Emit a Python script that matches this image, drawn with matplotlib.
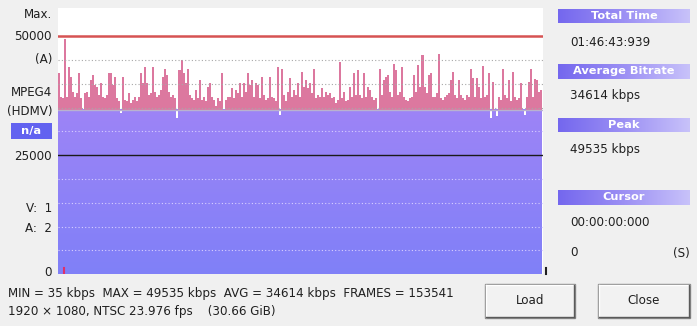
import numpy as np
import matplotlib
matplotlib.use("Agg")
import matplotlib.pyplot as plt
from matplotlib.patches import Rectangle
from matplotlib.colors import LinearSegmentedColormap

# ---------------- data (kbps per sample) ----------------
seg_a = [42220, 37360, 37010, 49535, 37360, 43610, 41530, 38400, 37360, 38060,
         42220, 37010, 34240, 38060, 38400, 37360, 40830, 41880, 39790, 39440,
         37710, 40140, 37360, 37010, 37710, 42220, 42220, 39790, 41530, 37010,
         36320, 33890, 41530, 36670, 36320, 38060, 35970, 36670, 37360, 36320,
         37360, 42220, 40140, 43610, 40140, 37710, 38060, 43610, 38400, 37360,
         37710, 38750, 41530, 43260, 41880, 38400, 37360, 37710, 37010, 32850,
         42920]
seg_b = [45140, 42220, 40140, 43260, 37710, 37010, 36670, 38750, 37010, 40830,
         36670, 37360, 36320, 39440, 40280, 37360, 36670, 35280, 37010, 36320,
         42360, 34440, 36670, 37360, 37360, 39100, 37010, 38750, 38060, 40140,
         37360, 40140, 38400, 42360, 39790, 40830, 37360, 40140, 39790, 37010,
         41530, 37710, 36670, 37010, 41530, 37360, 37010, 36320, 43610, 33540,
         43260, 37710, 36320, 38400, 41180, 37360, 38750, 37710, 40140, 37360,
         42570]
seg_c = [39440, 40830, 39100, 40140, 38060, 43060, 37010, 37710, 37360, 39100,
         37360, 38400, 37710, 38060, 37010, 37360, 35970, 36670, 44650, 37010,
         38400, 36320, 36670, 39440, 37360, 42360, 37710, 42920, 37710, 37010,
         42220, 37360, 39440, 38750, 37360, 36670, 37010, 34240, 43260, 37710,
         40830, 41530, 41880, 38400, 37360, 44310, 42920, 37710, 38400, 43610,
         37360, 36670, 36320, 37010, 37360, 41880, 38400, 43960, 39440, 46040]
seg_d = [39440, 38060, 41880, 42220, 37360, 37360, 38060, 46390, 37010, 36670,
         37360, 37710, 38060, 40830, 42570, 37710, 37010, 40830, 37710, 37010,
         36670, 37710, 37360, 43260, 41180, 37360, 41180, 39440, 37010, 43750,
         37360, 37710, 42220, 32850, 40490, 34240, 33190, 37360, 36670, 43060,
         37710, 37010, 40830, 36320, 42570, 37360, 36670, 37010, 40140, 34240,
         33540, 37360, 40490, 43260, 37360, 40970, 40830, 38400, 38750]
bitrate = np.array(seg_a + seg_b + seg_c + seg_d, dtype=float)

avg_kbps = 34614
max_line = 50000
mid_line = 25000
grid_levels = [5000, 10000, 15000, 20000, 30000, 35000, 40000, 45000]

left_labels = [("Max.", 14), ("50000", 37), ("(A)", 59), ("MPEG4", 93),
               ("(HDMV)", 112), ("25000", 157), ("V:  1", 208), ("A:  2", 228),
               ("0", 273)]
info_headers = [("Total Time", 16), ("Average Bitrate", 71), ("Peak", 125), ("Cursor", 197)]
info_values = [("01:46:43:939", 43), ("34614 kbps", 95), ("49535 kbps", 150),
               ("00:00:00:000", 223), ("0", 253)]
stats_line1 = "MIN = 35 kbps  MAX = 49535 kbps  AVG = 34614 kbps  FRAMES = 153541"
stats_line2 = "1920 \u00d7 1080, NTSC 23.976 fps    (30.66 GiB)"

# ---------------- figure ----------------
W, H = 697, 326
fig = plt.figure(figsize=(W / 100, H / 100), dpi=100, facecolor="#f0f0f0")
FONT = "DejaVu Sans"
FS = 8.6
HFS = 8.2


def fx(px):
    return px / W


def fy(py):
    return 1 - py / H


ax = fig.add_axes([fx(58), fy(274), fx(543) - fx(58), fy(8) - fy(274)])
ax.set_facecolor("white")
for s in ax.spines.values():
    s.set_visible(False)
ax.set_xticks([])
ax.set_yticks([])

N = len(bitrate)
edges = np.arange(N + 1)

cmap = LinearSegmentedColormap.from_list("p", ["#8080f8", "#9d84f6"])
grad = np.linspace(0, 1, 256).reshape(-1, 1)
ax.imshow(grad, extent=[0, N, 0, avg_kbps], origin="lower", aspect="auto",
          cmap=cmap, zorder=1, interpolation="bilinear")
ax.stairs(np.minimum(bitrate, avg_kbps), edges, baseline=avg_kbps, fill=True,
          color="white", zorder=2)
ax.stairs(np.maximum(bitrate, avg_kbps), edges, baseline=avg_kbps, fill=True,
          color="#dc789f", lw=0, zorder=2)

for g in grid_levels:
    if g < avg_kbps:
        ax.axhline(g, color="#d8d0ff", lw=0.8, ls=(0, (1, 2)), zorder=3)
    else:
        ax.axhline(g, color="#a8a8a8", lw=0.8, ls=(0, (1, 2)), zorder=3)
ax.axhline(avg_kbps, color="#b9b2cf", lw=1.0, zorder=3)
ax.axhline(max_line, color="#d65353", lw=1.8, zorder=4)
ax.axhline(mid_line, color="#1a1a1a", lw=1.0, zorder=4)
ax.plot([3, 3], [0, 1300], color="#e0306a", lw=1.5, zorder=5)
ax.set_xlim(0, N + 0.5)
ax.set_ylim(0, 56000)

# small right-hand marker
fig.add_artist(plt.Line2D([fx(545.5), fx(545.5)], [fy(274), fy(268)], color="#202020", lw=1.5))

# ---------------- left labels ----------------
for txt, y in left_labels:
    fig.text(fx(52), fy(y), txt, ha="right", va="center", fontsize=FS,
             family=FONT, color="#202020")
fig.patches.append(Rectangle((fx(11), fy(139)), fx(41), fy(123) - fy(139),
                             transform=fig.transFigure, facecolor="#6262f0",
                             edgecolor="none"))
fig.text(fx(31.5), fy(131), "n/a", ha="center", va="center", fontsize=HFS,
         family=FONT, color="white", weight="bold")

# ---------------- right info panel ----------------
hcmap = LinearSegmentedColormap.from_list("h", ["#7467ee", "#9c90f4", "#c8c2fa"])
hgrad = np.linspace(0, 1, 256).reshape(1, -1)
for txt, yc in info_headers:
    hax = fig.add_axes([fx(558), fy(yc + 7.5), fx(132), fy(yc - 7.5) - fy(yc + 7.5)])
    hax.imshow(hgrad, aspect="auto", cmap=hcmap, extent=[0, 1, 0, 1])
    hax.set_axis_off()
    hax.text(0.5, 0.47, txt, ha="center", va="center", fontsize=HFS,
             family=FONT, color="white", weight="bold", transform=hax.transAxes)
for txt, y in info_values:
    fig.text(fx(570), fy(y), txt, ha="left", va="center", fontsize=FS,
             family=FONT, color="#202020")
fig.text(fx(690), fy(253), "(S)", ha="right", va="center", fontsize=FS,
         family=FONT, color="#202020")

# ---------------- buttons ----------------
def button(x0, x1, y0, y1, label):
    fig.patches.append(Rectangle((fx(x0), fy(y1)), fx(x1 - x0), fy(y0) - fy(y1),
                                 transform=fig.transFigure, facecolor="#f2f2f2",
                                 edgecolor="#8a8a8a", lw=1.0))
    fig.add_artist(plt.Line2D([fx(x0 + 1), fx(x1 - 1)], [fy(y0 + 1), fy(y0 + 1)], color="white", lw=1))
    fig.add_artist(plt.Line2D([fx(x0 + 1), fx(x0 + 1)], [fy(y0 + 1), fy(y1 - 1)], color="white", lw=1))
    fig.add_artist(plt.Line2D([fx(x0 + 1), fx(x1 - 1)], [fy(y1 - 1.5), fy(y1 - 1.5)], color="#5a5a5a", lw=1))
    fig.add_artist(plt.Line2D([fx(x1 - 1.5), fx(x1 - 1.5)], [fy(y0 + 1), fy(y1 - 1)], color="#5a5a5a", lw=1))
    fig.text(fx((x0 + x1) / 2), fy((y0 + y1) / 2), label, ha="center", va="center",
             fontsize=FS, family=FONT, color="#202020")


button(485, 575, 284, 318, "Load")
button(598, 690, 284, 318, "Close")

# ---------------- bottom stats ----------------
fig.text(fx(8), fy(293), stats_line1, ha="left", va="center", fontsize=FS,
         family=FONT, color="#202020")
fig.text(fx(8), fy(311), stats_line2, ha="left", va="center", fontsize=FS,
         family=FONT, color="#202020")

fig.savefig("out.png", dpi=100, facecolor=fig.get_facecolor())
